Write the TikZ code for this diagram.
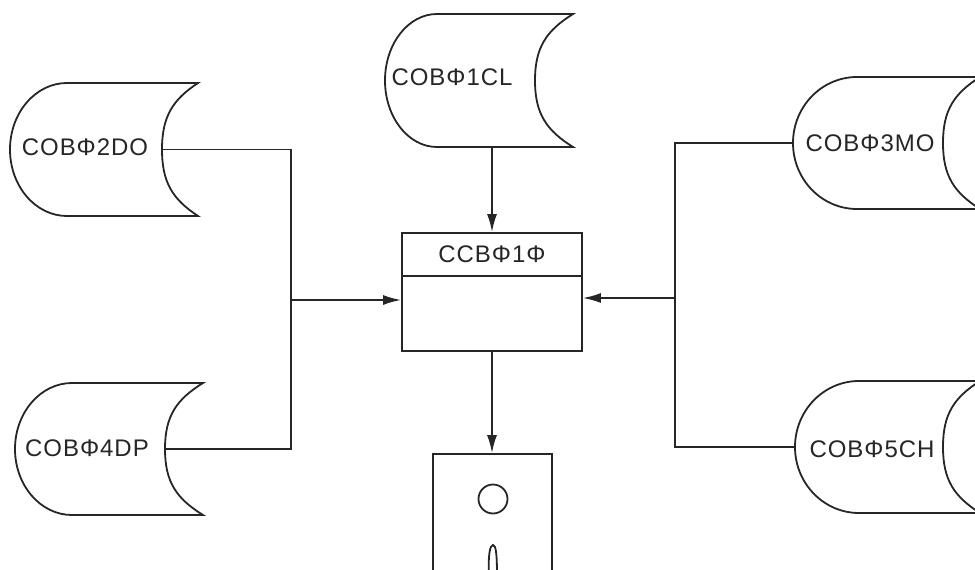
\documentclass[tikz,border=0pt]{standalone}
\usepackage{fontspec}
\setmainfont{Liberation Sans}
\usetikzlibrary{arrows.meta,calc}
\definecolor{ink}{HTML}{262626}
\newcommand\tapefile[9]{%
  % #1 name, #2 xL, #3 xA, #4 xI, #5 xT, #6 yT, #7 yB, #8 label pos, #9 text
  \pgfmathsetmacro\tfym{(#6+#7)/2}%
  \pgfmathsetmacro\tfh{(#7-#6)/2}%
  \pgfmathsetmacro\tfw{#3-#2}%
  \pgfmathsetmacro\tfd{#5-#4}%
  \draw[shapeline] (#5,#6) -- (#3,#6)
    .. controls ({#3-0.552*\tfw},#6) and (#2,{\tfym-0.552*\tfh}) .. (#2,\tfym)
    .. controls (#2,{\tfym+0.552*\tfh}) and ({#3-0.552*\tfw},#7) .. (#3,#7)
    -- (#5,#7)
    .. controls ({#4+0.3*\tfd},{#7-0.25*\tfh}) and (#4,{\tfym+0.5*\tfh}) .. (#4,\tfym)
    .. controls (#4,{\tfym-0.5*\tfh}) and ({#4+0.3*\tfd},{#6+0.25*\tfh}) .. (#5,#6) -- cycle;
  \node[filelabel] (#1) at (#8) {#9};
  \coordinate (#1-in) at (#4,\tfym);
  \coordinate (#1-out) at (#2,\tfym);
}
\begin{document}
\begin{tikzpicture}[x=1pt,y=-1pt,
  shapeline/.style={draw=ink,line width=1.8pt,line join=miter},
  filelabel/.style={font=\fontsize{24}{24}\selectfont\addfontfeatures{LetterSpace=4},text=ink,inner sep=0pt},
  conn/.style={draw=ink,line width=1.8pt},
  arr/.style={conn,-{Latex[length=18pt,width=10pt]}},
  procbox/.style={draw=ink,line width=1.8pt,minimum width=180pt,minimum height=118pt,inner sep=0pt},
  termbox/.style={draw=ink,line width=1.8pt,minimum width=119pt,minimum height=200pt,inner sep=0pt}]
\useasboundingbox (0,0) rectangle (975,570);
% files
\tapefile{f2}{10}{67}{162}{198}{83}{216}{85,147}{COBΦ2DO}
\tapefile{f4}{15}{72}{165}{203}{383}{515}{87,448}{COBΦ4DP}
\tapefile{f1}{385}{437}{535}{573}{14}{147}{452,77}{COBΦ1CL}
\tapefile{f3}{793}{857}{943}{980}{77}{209}{870,143}{COBΦ3MO}
\tapefile{f5}{795}{859}{943}{980}{381}{513}{872,449}{COBΦ5CH}
% process box
\node[procbox] (proc) at (492,292) {};
\draw[conn] ($(proc.north west)+(0,44)$) coordinate (dl) -- ($(proc.north east)+(0,44)$) coordinate (dr);
\node[filelabel] (ptitle) at ($(proc.north)!0.5!($(dl)!0.5!(dr)$)$) {CCBΦ1Φ};
% terminal
\node[termbox] (term) at (492.5,554) {};
\node[draw=ink,line width=1.8pt,circle,minimum size=29pt,inner sep=0pt] (knob) at (493,499) {};
\draw[conn] (489,575) .. controls (488,555) and (490,545) .. (493,545)
  .. controls (496,545) and (497,555) .. (497,575);
% connectors
\coordinate (jl) at (291,300);
\coordinate (jr) at (675,298);
\draw[conn] (f2-in) -| (jl) |- (f4-in);
\draw[conn] (f3-out) -| (jr) |- (f5-out);
\draw[arr] (jl) -- (jl -| proc.west);
\draw[arr] (jr) -- (jr -| proc.east);
\coordinate (f1b) at (proc.north |- 0,147);
\draw[arr] (f1b) -- (proc.north);
\draw[arr] (proc.south) -- (proc.south |- term.north);
\end{tikzpicture}
\end{document}
